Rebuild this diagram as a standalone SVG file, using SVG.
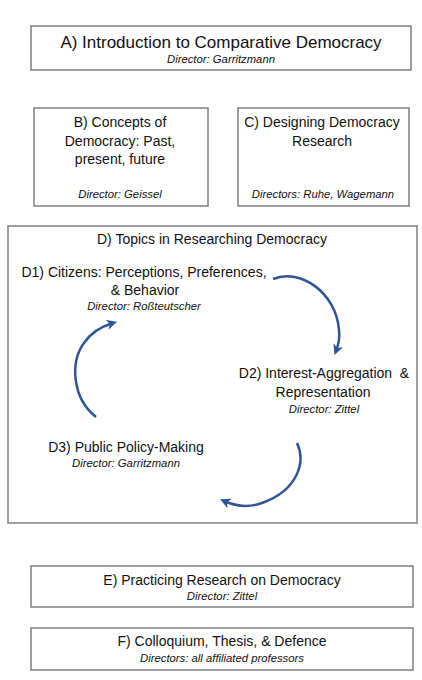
<svg xmlns="http://www.w3.org/2000/svg" width="422" height="680" viewBox="0 0 422 680">
<style>
.box{fill:#fff;stroke:#7f7f7f;stroke-width:1.5}
.t{font-family:"Liberation Sans",Arial,sans-serif;font-size:14px;fill:#111;text-anchor:middle}
.big{font-size:17px}
.d{font-family:"Liberation Sans",Arial,sans-serif;font-size:11.3px;font-style:italic;fill:#111;text-anchor:middle}
.arr{fill:none;stroke:#2f5597;stroke-width:2.5;stroke-linecap:butt}
</style>
<defs>
<marker id="ah" viewBox="0 0 10 10" refX="6" refY="5" markerWidth="4.2" markerHeight="4.2" orient="auto" markerUnits="strokeWidth">
<path d="M0,0 L10,5 L0,10 L3,5 Z" fill="#2f5597"/>
</marker>
</defs>
<rect width="422" height="680" fill="#fff"/>
<g id="A">
<rect class="box" x="31" y="26" width="380" height="44"/>
<text class="t big" x="221" y="48">A) Introduction to Comparative Democracy</text>
<text class="d" x="221" y="63">Director: Garritzmann</text>
</g>
<g id="B">
<rect class="box" x="34" y="108" width="174" height="98"/>
<text class="t" x="120" y="127">B) Concepts of</text>
<text class="t" x="120" y="146">Democracy: Past,</text>
<text class="t" x="120" y="164">present, future</text>
<text class="d" x="120" y="198">Director: Geissel</text>
</g>
<g id="C">
<rect class="box" x="238" y="108" width="171" height="98"/>
<text class="t" x="322" y="127">C) Designing Democracy</text>
<text class="t" x="322" y="146">Research</text>
<text class="d" x="323" y="198">Directors: Ruhe, Wagemann</text>
</g>
<g id="D">
<rect class="box" x="8" y="226" width="409" height="297"/>
<text class="t" x="212" y="244">D) Topics in Researching Democracy</text>
</g>
<g id="D1">
<text class="t" x="144" y="277">D1) Citizens: Perceptions, Preferences,</text>
<text class="t" x="145" y="295">&amp; Behavior</text>
<text class="d" x="144" y="310">Director: Roßteutscher</text>
</g>
<g id="D2">
<text class="t" x="324" y="378" xml:space="preserve">D2) Interest-Aggregation  &amp;</text>
<text class="t" x="323" y="397">Representation</text>
<text class="d" x="324" y="413">Director: Zittel</text>
</g>
<g id="D3">
<text class="t" x="126" y="452">D3) Public Policy-Making</text>
<text class="d" x="126" y="467">Director: Garritzmann</text>
</g>
<g id="connectors">
<path class="arr" d="M273,279 C300,268 336,292 339,330 C340,338 338,346 336,351" marker-end="url(#ah)"/>
<path class="arr" d="M96,417 C72,398 70,362 84,343 C92,331 103,326 113,323" marker-end="url(#ah)"/>
<path class="arr" d="M297,443 C306,462 298,490 262,503 C248,508 235,506 224,501" marker-end="url(#ah)"/>
</g>
<g id="E">
<rect class="box" x="31" y="566" width="382" height="41"/>
<text class="t" x="222" y="585">E) Practicing Research on Democracy</text>
<text class="d" x="222" y="600">Director: Zittel</text>
</g>
<g id="F">
<rect class="box" x="31" y="628" width="382" height="42"/>
<text class="t" x="222" y="646">F) Colloquium, Thesis, &amp; Defence</text>
<text class="d" x="222" y="662">Directors: all affiliated professors</text>
</g>
</svg>
